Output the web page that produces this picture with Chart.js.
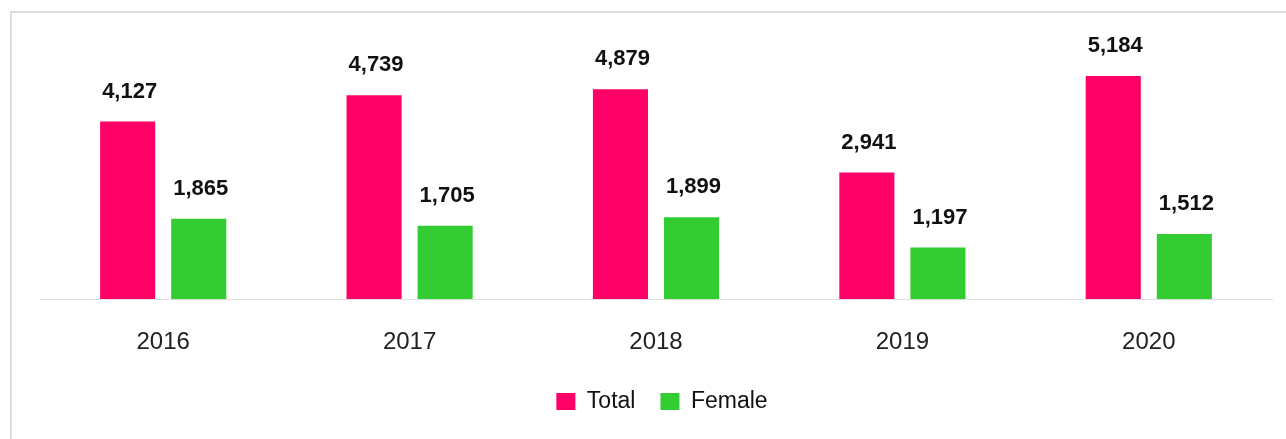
<!DOCTYPE html>
<html>
<head>
<meta charset="utf-8">
<title>Total and female by year</title>
<script src="https://cdn.jsdelivr.net/npm/chart.js@4/dist/chart.umd.min.js"></script>
<style>
    html, body {
        margin: 0;
        padding: 0;
        background: #fff;
        overflow: hidden;
    }
    .frame {
        position: absolute;
        left: 10px;
        top: 11px;
        width: 1300px;
        height: 460px;
        border: 2px solid #dcdcdc;
    }
    .wrap {
        position: absolute;
        left: 0;
        top: 0;
        width: 1286px;
        height: 439px;
    }
</style>
</head>
<body>
<div class="frame"></div>
<div class="wrap"><canvas id="yearChart"></canvas></div>
<script>
const years = ['2016', '2017', '2018', '2019', '2020'];
const totalValues = [4127, 4739, 4879, 2941, 5184];
const femaleValues = [1865, 1705, 1899, 1197, 1512];
const yMax = 6000;

const FONT = "'Liberation Sans', Arial, Helvetica, sans-serif";

// Writes each bar's value a fixed distance above its top
const valueLabels = {
    id: 'valueLabels',
    afterDatasetsDraw(chart) {
        const ctx = chart.ctx;
        ctx.save();
        ctx.font = 'bold 22px ' + FONT;
        ctx.fillStyle = '#111';
        ctx.textAlign = 'center';
        ctx.textBaseline = 'middle';
        chart.data.datasets.forEach((ds, i) => {
            chart.getDatasetMeta(i).data.forEach((bar, j) => {
                const text = Number(ds.data[j]).toLocaleString('en-US');
                ctx.fillText(text, bar.x + 2, bar.y - 30);
            });
        });
        ctx.restore();
    },
};

// Nudges the legend a little right of the centre
const legendShift = {
    id: 'legendShift',
    afterLayout(chart) {
        if (chart.legend) {
            chart.legend.left += 6;
            chart.legend.right += 6;
        }
    },
};

new Chart(document.getElementById('yearChart'), {
    type: 'bar',
    data: {
        labels: years,
        datasets: [
            {
                label: 'Total',
                data: totalValues,
                backgroundColor: '#ff0066',
                categoryPercentage: 0.577,
                barPercentage: 0.775,
            },
            {
                label: 'Female',
                data: femaleValues,
                backgroundColor: '#33cc33',
                categoryPercentage: 0.577,
                barPercentage: 0.775,
            },
        ],
    },
    options: {
        responsive: true,
        maintainAspectRatio: false,
        animation: false,
        layout: {
            padding: { left: 40, right: 14, top: 41, bottom: 16 },
        },
        plugins: {
            legend: {
                position: 'bottom',
                labels: {
                    color: '#111',
                    font: { family: FONT, size: 23 },
                    boxWidth: 19,
                    boxHeight: 17,
                    padding: 25,
                },
            },
            tooltip: { enabled: false },
        },
        scales: {
            x: {
                grid: { display: false, drawTicks: false },
                border: { display: true, color: '#dedede', width: 1 },
                ticks: {
                    color: '#222',
                    padding: 29,
                    font: { family: FONT, size: 24 },
                },
                afterFit(scale) {
                    scale.height = 66;
                },
            },
            y: {
                display: false,
                min: 0,
                max: yMax,
            },
        },
    },
    plugins: [valueLabels, legendShift],
});
</script>
</body>
</html>
